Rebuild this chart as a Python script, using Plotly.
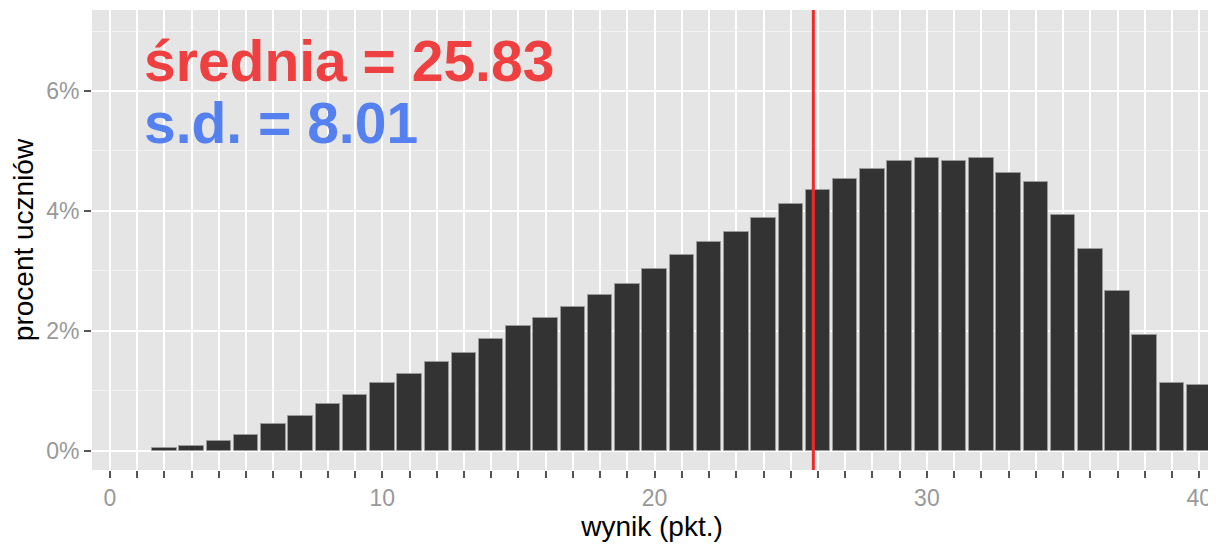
import plotly.graph_objects as go

# data
scores = list(range(2, 41))
percent = [0.055, 0.09, 0.16, 0.27, 0.45, 0.58, 0.79, 0.93, 1.14, 1.28,
           1.49, 1.63, 1.87, 2.08, 2.22, 2.40, 2.60, 2.78, 3.03, 3.27,
           3.48, 3.65, 3.89, 4.11, 4.35, 4.53, 4.70, 4.84, 4.88, 4.84,
           4.88, 4.63, 4.49, 3.93, 3.37, 2.67, 1.94, 1.14, 1.10]
mean_score = 25.83
sd_score = 8.01
x_tickvals = list(range(0, 41))
x_ticktext = [str(v) if v % 10 == 0 else "" for v in x_tickvals]
y_tickvals = [0, 2, 4, 6]
y_ticktext = ["0%", "2%", "4%", "6%"]

FONT = "Liberation Sans, Arial, sans-serif"

fig = go.Figure()
fig.add_trace(go.Bar(
    x=scores, y=percent, width=0.9,
    marker=dict(color="#333333", line=dict(color="#9a9a9a", width=1)),
    showlegend=False, hoverinfo="x+y",
))

fig.add_shape(type="line", xref="x", yref="y domain",
              x0=mean_score, x1=mean_score, y0=0, y1=1,
              line=dict(color="#EE2A2A", width=3))

fig.add_annotation(x=0, y=1, xref="paper", yref="paper",
                   xshift=50, yshift=-17, xanchor="left", yanchor="top",
                   text=f"<b>średnia = {mean_score:.2f}</b>", showarrow=False,
                   font=dict(family=FONT, size=57, color="#EE4040"))
fig.add_annotation(x=0, y=1, xref="paper", yref="paper",
                   xshift=50, yshift=-79, xanchor="left", yanchor="top",
                   text=f"<b>s.d. = {sd_score:.2f}</b>", showarrow=False,
                   font=dict(family=FONT, size=57, color="#5580F0"))

# the page body adds an 8px offset, so the figure is 8px smaller and shifted
fig.update_layout(
    width=1208, height=540,
    margin=dict(l=84, r=4, t=2, b=78, autoexpand=False),
    paper_bgcolor="white", plot_bgcolor="#E5E5E5",
    font=dict(family=FONT, size=18, color="#000000"),
    bargap=0,
    xaxis=dict(
        range=[-0.661, 40.47], tickmode="array",
        tickvals=x_tickvals, ticktext=x_ticktext,
        showgrid=True, gridcolor="white", gridwidth=2,
        ticks="outside", ticklen=7, tickwidth=1.5, tickcolor="#555555",
        tickfont=dict(size=23, color="#999999"),
        zeroline=False, showline=False, automargin=False,
        title=dict(text="wynik (pkt.)", font=dict(size=28, color="#000000"), standoff=2),
    ),
    yaxis=dict(
        range=[-0.317, 7.35], tickmode="array",
        tickvals=y_tickvals, ticktext=y_ticktext,
        showgrid=True, gridcolor="white", gridwidth=2,
        minor=dict(dtick=1, tick0=0, showgrid=True, gridcolor="#F2F2F2", gridwidth=1, ticks=""),
        ticks="outside", ticklen=7, tickwidth=1.5, tickcolor="#555555",
        tickfont=dict(size=23, color="#999999"),
        zeroline=False, showline=False, automargin=False,
        title=dict(text="procent uczniów", font=dict(size=28, color="#000000"), standoff=10),
    ),
)

fig.write_html("out.html")
